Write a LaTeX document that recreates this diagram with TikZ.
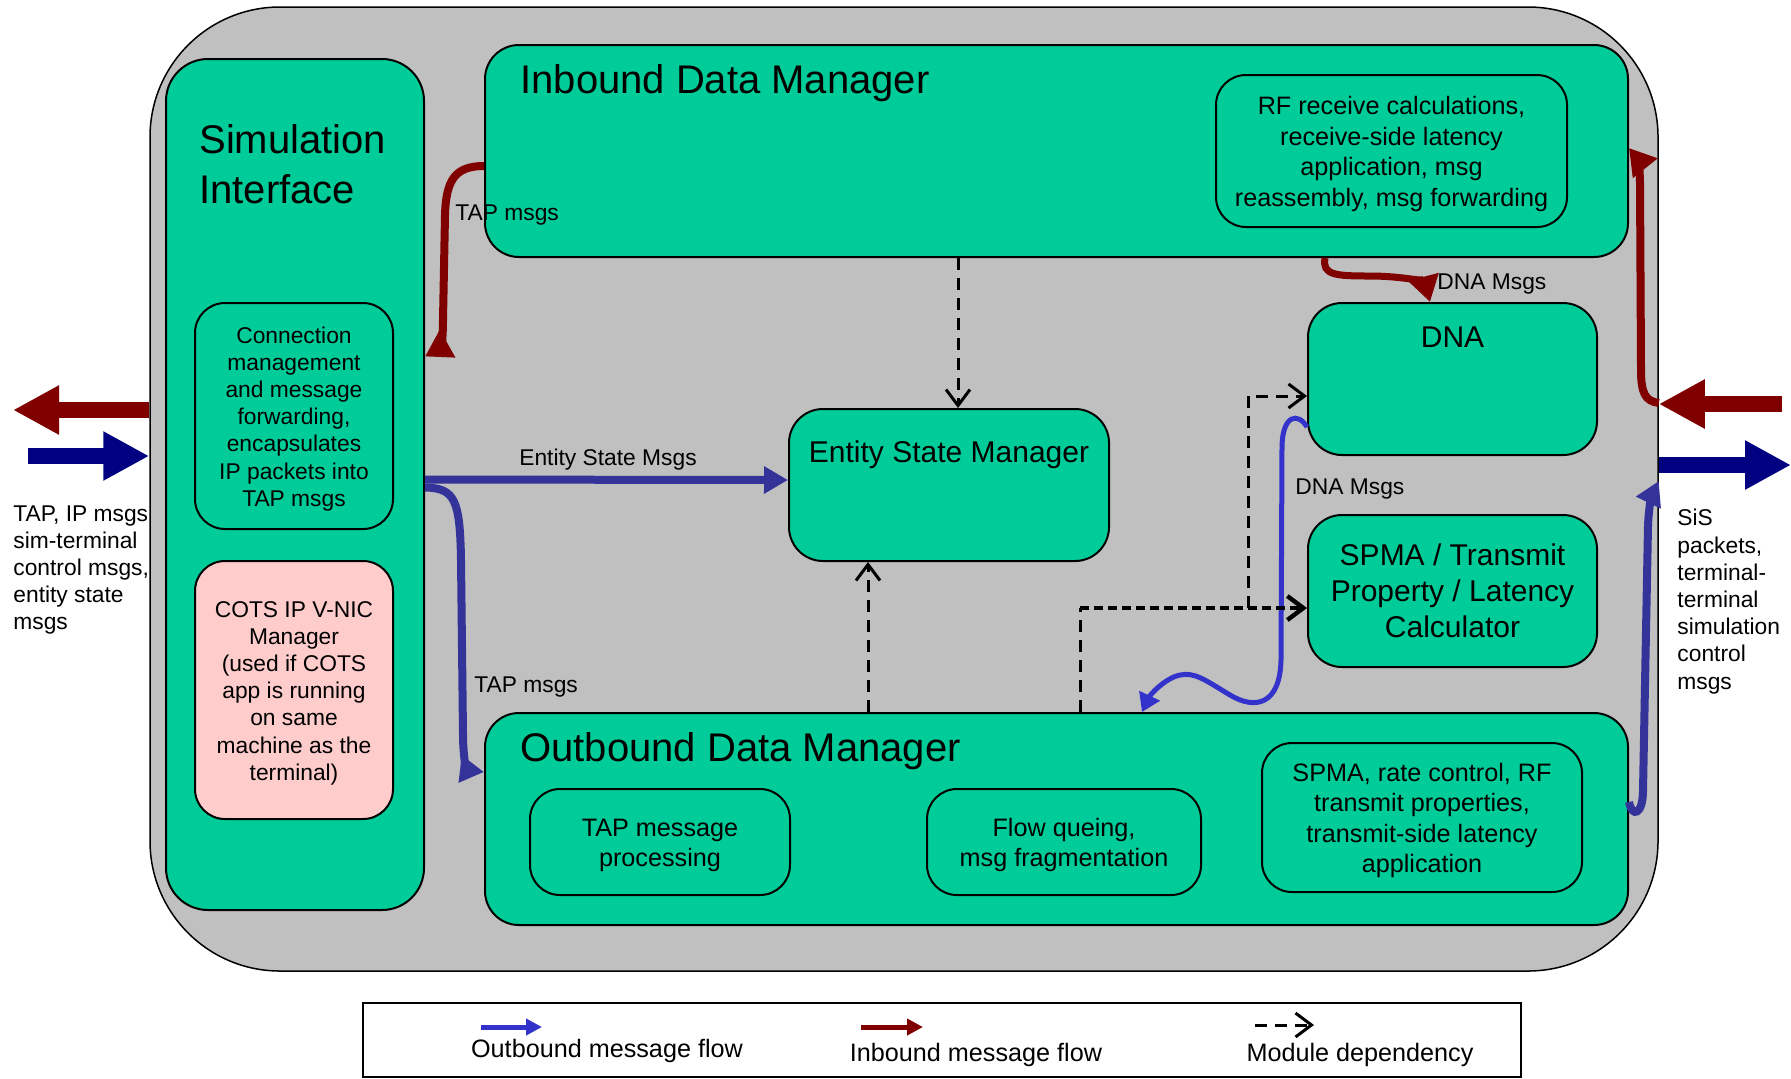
\documentclass[tikz,border=0pt]{standalone}
\usepackage{fontspec}
\setmainfont{Liberation Sans}
\usepackage{tikz}
\usetikzlibrary{arrows.meta}

\definecolor{modfill}{HTML}{00CC99}
\definecolor{sysgray}{HTML}{C0C0C0}
\definecolor{cotspink}{HTML}{FFCCCC}
\definecolor{inred}{HTML}{800000}
\definecolor{outblue}{HTML}{333399}
\definecolor{dnablue}{HTML}{3333CC}
\definecolor{extblue}{HTML}{000080}

\begin{document}
\begin{tikzpicture}[
  x=0.5pt, y=-0.5pt,
  every node/.style={inner sep=0pt},
  title/.style={font=\fontsize{20}{25}\selectfont},
  modtitle/.style={font=\fontsize{15}{18}\selectfont},
  boxtext/.style={font=\fontsize{12.6}{15.3}\selectfont, align=center},
  smalltext/.style={font=\fontsize{11.4}{13.6}\selectfont},
  lbl/.style={font=\fontsize{11.4}{13.6}\selectfont},
  module/.style={draw, line width=1pt, fill=modfill, rounded corners=17pt},
  submod/.style={module, rounded corners=15pt, align=center},
  ext/.style={line width=8pt, -{Triangle[length=23pt,width=23pt]}},
  inmsg/.style={draw=inred, line width=4pt, -{Triangle[length=13pt,width=15pt]}},
  outmsg/.style={draw=outblue, line width=4pt, -{Triangle[length=12pt,width=13pt]}},
  dnamsg/.style={draw=dnablue, line width=2.5pt, -{Triangle[length=9pt,width=11pt]}},
  dep/.style={line width=1.5pt, dash pattern=on 6pt off 4pt, -{Straight Barb[length=8pt,width=12pt]}},
  legarrow/.style={line width=2.5pt, -{Triangle[length=8pt,width=8pt]}}
]
  \useasboundingbox (0,0) rectangle (1791,1078);

  % terminal boundary
  \node[draw, line width=0.75pt, fill=sysgray, rounded corners=65pt,
        minimum width=754pt, minimum height=482pt] (sys) at (904,489) {};

  % simulation interface column
  \node[module, rounded corners=21pt, minimum width=129pt, minimum height=425.5pt] (simif) at (295,484.5) {};
  \node[title, anchor=north west, align=left] (simift) at (199,124) {Simulation\\Interface};
  \node[submod, smalltext, minimum width=99pt, minimum height=113pt] (conn) at (294,416)
    {\rule{0pt}{11pt}Connection\\management\\and message\\forwarding,\\encapsulates\\IP packets into\\TAP msgs};
  \node[submod, smalltext, fill=cotspink, minimum width=99pt, minimum height=129pt] (cots) at (294,690)
    {\rule{0pt}{11pt}COTS IP V-NIC\\Manager\\(used if COTS\\app is running\\on same\\machine as the\\terminal)};

  % inbound side
  \node[module, minimum width=571.5pt, minimum height=106pt] (idm) at (1056.5,151) {};
  \node[title, anchor=base west] (idmt) at (520,93) {Inbound Data Manager};
  \node[submod, boxtext, minimum width=175.5pt, minimum height=76pt] (rf) at (1391.5,151)
    {\rule{0pt}{12pt}RF receive calculations,\\receive-side latency\\application, msg\\reassembly, msg forwarding};

  \node[module, minimum width=160pt, minimum height=76pt] (esm) at (949,485) {};
  \node[modtitle, anchor=base] (esmt) at (949,462) {Entity State Manager};
  \node[module, minimum width=144.5pt, minimum height=76pt] (dna) at (1452.5,379) {};
  \node[modtitle, anchor=base] (dnat) at (1452.5,347) {DNA};
  \node[module, modtitle, align=center, minimum width=144.5pt, minimum height=76pt] (spmat) at (1452.5,591)
    {SPMA / Transmit\\Property / Latency\\Calculator};

  % outbound side
  \node[module, minimum width=571.5pt, minimum height=106pt] (odm) at (1056.5,819) {};
  \node[title, anchor=base west] (odmt) at (520,761) {Outbound Data Manager};
  \node[submod, boxtext, minimum width=130pt, minimum height=53pt] (tapp) at (660,842)
    {\rule{0pt}{12pt}TAP message\\processing};
  \node[submod, boxtext, minimum width=137pt, minimum height=53pt] (flow) at (1064,842)
    {\rule{0pt}{12pt}Flow queing,\\msg fragmentation};
  \node[submod, boxtext, minimum width=160pt, minimum height=74.5pt] (spmar) at (1422,817.5)
    {\rule{0pt}{12pt}SPMA, rate control, RF\\transmit properties,\\transmit-side latency\\application};

  % outside traffic
  \node[smalltext, anchor=north west, align=left] (lefttxt) at (13,505)
    {TAP, IP msgs\\sim-terminal\\control msgs,\\entity state\\msgs};
  \node[smalltext, anchor=north west, align=left] (righttxt) at (1677,509)
    {SiS\\packets,\\terminal-\\terminal\\simulation\\control\\msgs};
  \coordinate (lout) at (13,410);
  \coordinate (lin) at (28,456);
  \coordinate (rin) at (1782,404);
  \coordinate (rout) at (1791,465);
  \draw[ext, inred] ([yshift=39.5pt]sys.west) -- (lout);
  \draw[ext, extblue] (lin) -- ([yshift=16.5pt]sys.west);
  \draw[ext, inred] (rin) -- ([yshift=42.5pt]sys.east);
  \draw[ext, extblue] ([yshift=12pt]sys.east) -- (rout);

  % message flows
  \draw[inmsg] ([yshift=-7.5pt]idm.west) .. controls (455,166) and (446,180) .. (445,215)
    -- (443,320) .. controls (443,342) and (440,348) .. ([yshift=64pt]simif.east);
  \node[lbl, anchor=west] (tapin) at (455,215) {TAP msgs};

  \draw[outmsg] ([yshift=2.5pt]simif.east) -- ([yshift=2.5pt]esm.west);
  \node[lbl] (esml) at (608,460) {Entity State Msgs};

  \draw[outmsg] ([yshift=-1.5pt]simif.east) .. controls (455,488) and (460,500) .. (461,560)
    -- (463,735) .. controls (463,760) and (468,770) .. ([yshift=23.5pt]odm.west);
  \node[lbl, anchor=west] (tapout) at (474,687) {TAP msgs};

  \draw[inmsg, line width=3.5pt] ([xshift=134.25pt]idm.south) .. controls (1322,275) and (1335,276) .. (1370,276)
    .. controls (1405,276) and (1425,283) .. ([xshift=-11.25pt]dna.north);
  \node[lbl, anchor=west] (dnain) at (1437,284) {DNA Msgs};

  \draw[dnamsg] ([yshift=-24pt]dna.west) .. controls (1298,412) and (1283,415) .. (1282,445)
    -- (1281,660) .. controls (1280,705) and (1255,710) .. (1230,695)
    .. controls (1205,680) and (1195,672) .. (1180,675)
    .. controls (1165,678) and (1150,695) .. ([xshift=42.75pt]odm.north);
  \node[lbl, anchor=west] (dnaout) at (1295,489) {DNA Msgs};

  \draw[outmsg] ([yshift=8.5pt]odm.east) .. controls (1632,818) and (1643,815) .. (1643,790)
    -- (1648,525) .. controls (1649,505) and (1652,495) .. ([yshift=4pt]sys.east);
  \draw[inmsg] ([yshift=43pt]sys.east) .. controls (1645,401) and (1641,393) .. (1641,370)
    -- (1640,185) .. controls (1640,168) and (1637,158) .. ([yshift=1.5pt]idm.east);

  % module dependencies
  \draw[dep] ([xshift=4.5pt]esm.north |- idm.south) -- ([xshift=4.5pt]esm.north);
  \draw[dep] ([xshift=-40.5pt]esm.south |- odm.north) -- ([xshift=-40.5pt]esm.south);
  \coordinate (jn) at (1248,608);
  \draw[dep, -] ([xshift=11.75pt]odm.north) -- ([xshift=11.75pt]odm.north |- jn);
  \draw[dep, line width=2.2pt, dash pattern=on 4.5pt off 2.5pt] ([xshift=11.75pt]odm.north |- jn) -- (jn -| spmat.west);
  \draw[dep] (jn) |- ([yshift=-8.5pt]dna.west);

  % legend
  \node[draw, line width=0.75pt, minimum width=579pt, minimum height=37pt] (legend) at (942,1040) {};
  \coordinate (lgo1) at (481,1027);
  \coordinate (lgo2) at (542,1027);
  \coordinate (lgi1) at (861,1027);
  \coordinate (lgi2) at (923,1027);
  \coordinate (lgd1) at (1255,1025);
  \coordinate (lgd2) at (1314,1025);
  \draw[legarrow, dnablue] (lgo1) -- (lgo2);
  \draw[legarrow, inred] (lgi1) -- (lgi2);
  \draw[dep] (lgd1) -- (lgd2);
  \node[boxtext] (lgot) at (607,1051) {Outbound message flow};
  \node[boxtext] (lgit) at (976,1055) {Inbound message flow};
  \node[boxtext] (lgdt) at (1360,1055) {Module dependency};
\end{tikzpicture}
\end{document}
